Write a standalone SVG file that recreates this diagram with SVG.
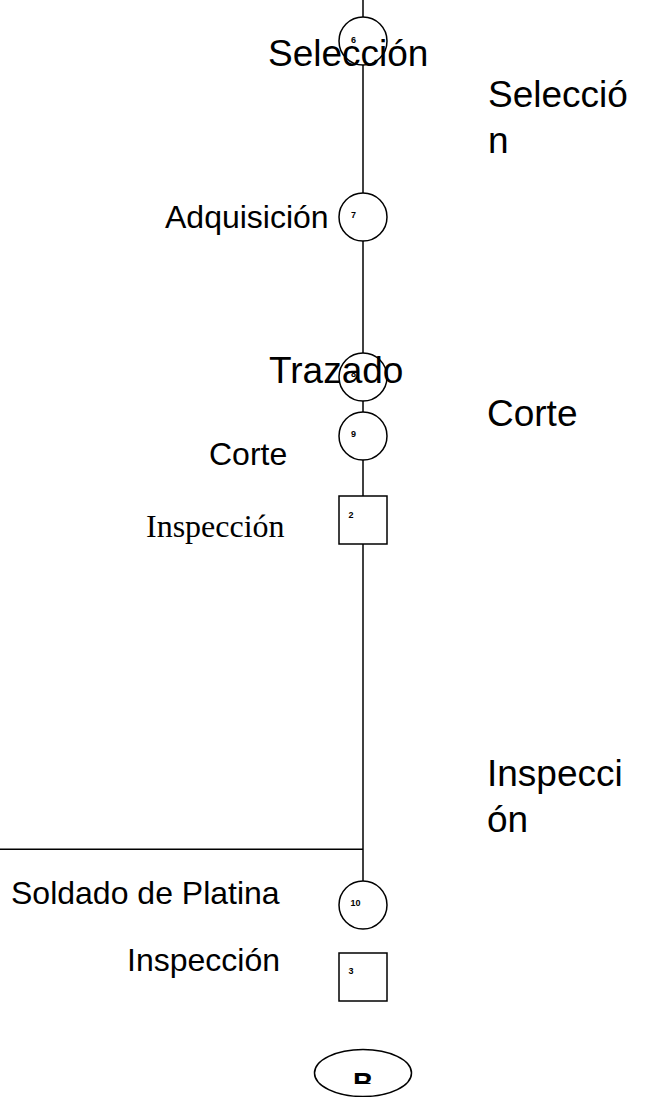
<svg xmlns="http://www.w3.org/2000/svg" width="645" height="1097" viewBox="0 0 645 1097">
<style>
.ln{stroke:#000;stroke-width:1.5;fill:none}
.sh{stroke:#000;stroke-width:1.5;fill:#fff}
.num{font-family:"Liberation Sans",Arial,sans-serif;font-size:9px;font-weight:bold;fill:#000}
.big{font-family:"Liberation Sans",Arial,sans-serif;font-size:37px;fill:#000}
.lab{font-family:"Liberation Sans",Arial,sans-serif;font-size:32px;fill:#000}
.ser{font-family:"Liberation Serif","Times New Roman",serif;font-size:32px;fill:#000}
</style>
<defs>
<clipPath id="clipB"><rect x="300" y="1040" width="130" height="44"/></clipPath>
</defs>
<rect width="645" height="1097" fill="#fff"/>
<g id="connectors">
<line class="ln" x1="363" y1="0" x2="363" y2="881"/>
<line class="ln" x1="0" y1="849.3" x2="363" y2="849.3"/>
</g>
<g id="node6">
<circle class="sh" cx="363" cy="41" r="24"/>
<text class="num" x="351" y="42.5">6</text>
<text class="big" x="268" y="66">Selección</text>
</g>
<g id="node7">
<circle class="sh" cx="363" cy="217" r="24"/>
<text class="num" x="351" y="217.5">7</text>
<text class="lab" x="165" y="228">Adquisición</text>
</g>
<g id="node8">
<circle class="sh" cx="363" cy="377" r="24"/>
<text class="num" x="351" y="377">8</text>
<text class="big" x="269" y="383">Trazado</text>
</g>
<g id="node9">
<circle class="sh" cx="363" cy="436" r="24"/>
<text class="num" x="351" y="437">9</text>
<text class="lab" x="209" y="465">Corte</text>
</g>
<g id="node2">
<rect class="sh" x="339" y="496" width="48" height="48"/>
<text class="num" x="348.5" y="517.5">2</text>
<text class="ser" x="146" y="537">Inspección</text>
</g>
<g id="node10">
<circle class="sh" cx="363" cy="905" r="24"/>
<text class="num" x="350.5" y="906">10</text>
<text class="lab" x="11" y="904">Soldado de Platina</text>
</g>
<g id="node3">
<rect class="sh" x="339" y="953" width="48" height="48"/>
<text class="num" x="348.5" y="974">3</text>
<text class="lab" x="127" y="971">Inspección</text>
</g>
<g id="nodeB">
<ellipse class="sh" cx="363" cy="1073" rx="48.5" ry="23.5"/>
<text clip-path="url(#clipB)" x="363" y="1092" text-anchor="middle" style="font-family:'Liberation Sans',Arial,sans-serif;font-size:28px;font-weight:bold">B</text>
</g>
<g id="side-labels">
<text class="big" x="488" y="107">Selecció</text>
<text class="big" x="488" y="153">n</text>
<text class="big" x="487" y="426">Corte</text>
<text class="big" x="487" y="786">Inspecci</text>
<text class="big" x="487" y="832">ón</text>
</g>
</svg>
